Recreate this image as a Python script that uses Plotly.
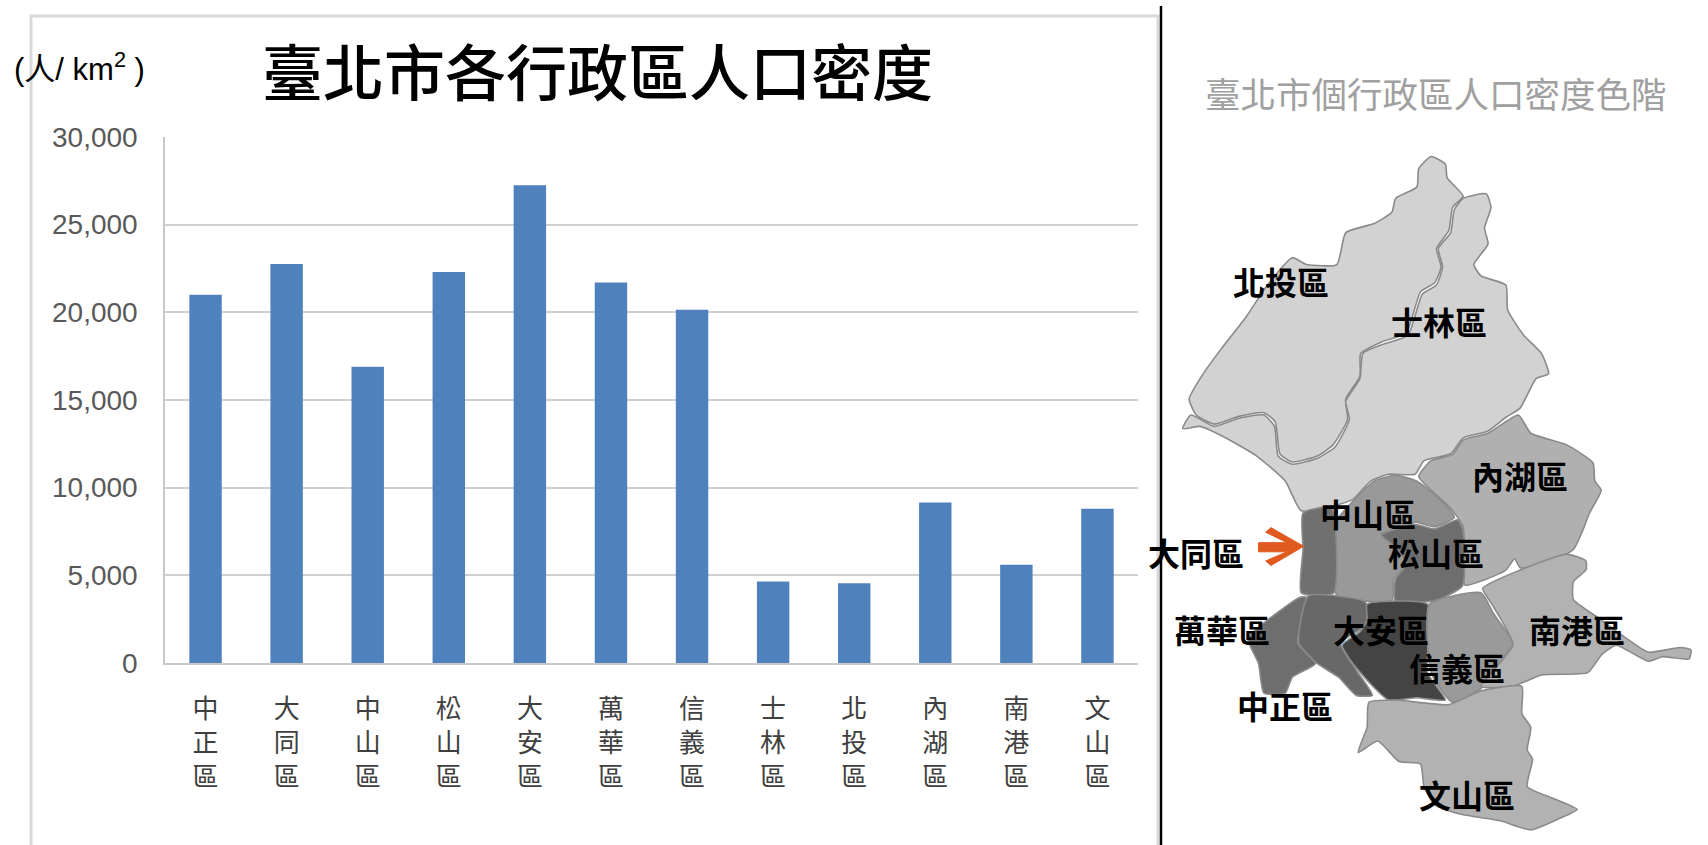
import plotly.graph_objects as go

W, H = 1708, 845

districts = ["中正區", "大同區", "中山區", "松山區", "大安區", "萬華區", "信義區", "士林區", "北投區", "內湖區", "南港區", "文山區"]
density = [21000, 22750, 16900, 22300, 27250, 21700, 20150, 4650, 4550, 9150, 5600, 8800]
y_ticks = [0, 5000, 10000, 15000, 20000, 25000, 30000]

chart_title = "臺北市各行政區人口密度"
map_title = "臺北市個行政區人口密度色階"
unit_text = "(人/ km<sup>2</sup> )"

beitou = [(790,58),(830,75),(835,105),(880,145),(850,170),(840,220),(805,260),(818,300),(800,335),(760,355),(720,445),(650,465),(592,490),(590,540),(550,590),(555,635),(515,690),(470,715),(400,728),(365,710),(352,640),(320,620),(250,628),(180,645),(130,625),(110,590),(145,540),(200,480),(270,410),(330,340),(400,280),(440,295),(525,295),(550,225),(630,205),(680,180),(690,150),(750,125),(755,85)]
shilin = [(880,150),(945,140),(958,170),(940,215),(950,250),(910,295),(930,320),(1000,340),(1005,395),(1050,450),(1100,490),(1120,535),(1085,545),(1040,610),(1000,630),(950,660),(880,675),(845,710),(770,725),(745,755),(670,755),(620,770),(570,810),(510,825),(425,835),(380,770),(300,715),(200,670),(140,650),(92,655),(115,625),(180,650),(250,632),(320,625),(350,650),(360,715),(400,733),(470,720),(520,695),(560,635),(550,595),(590,545),(598,490),(655,470),(725,450),(765,360),(805,340),(822,300),(810,260),(845,225),(855,175)]
neihu = [(755,760),(790,725),(850,712),(880,680),(950,665),(1035,625),(1070,665),(1170,690),(1245,730),(1250,770),(1268,790),(1235,840),(1215,880),(1190,920),(1130,945),(1040,960),(1025,940),(1000,965),(945,985),(885,998),(880,870),(840,825),(790,790)]
zhongshan = [(575,810),(630,770),(690,757),(750,770),(800,800),(840,830),(855,850),(800,870),(745,860),(690,880),(650,885),(690,915),(720,950),(685,985),(680,1032),(525,1020),(522,860)]
datong = [(430,840),(510,828),(516,1015),(425,1015),(430,920)]
songshan = [(650,888),(745,865),(800,875),(865,855),(880,880),(878,1000),(800,1032),(690,1035),(690,985),(722,950),(690,915)]
wanhua = [(420,1025),(440,1025),(415,1125),(465,1170),(400,1200),(380,1235),(320,1235),(305,1170),(275,1115),(330,1075)]
zhongzheng = [(445,1022),(605,1035),(608,1085),(535,1125),(580,1185),(625,1240),(580,1240),(530,1200),(470,1170),(418,1125)]
daan = [(610,1040),(780,1040),(780,1190),(830,1250),(750,1245),(670,1250),(620,1215),(570,1170),(540,1130),(590,1100),(610,1075)]
xinyi = [(785,1040),(930,1015),(965,1060),(1010,1110),(1020,1125),(960,1190),(930,1225),(850,1255),(790,1190)]
nangang = [(935,1005),(1040,965),(1170,930),(1225,945),(1225,965),(1190,990),(1190,1030),(1260,1070),(1330,1110),(1400,1145),(1490,1135),(1520,1140),(1515,1160),(1440,1155),(1400,1165),(1310,1130),(1270,1150),(1230,1190),(1100,1195),(1020,1220),(930,1220),(1020,1130),(965,1045)]
wenshan = [(615,1255),(690,1250),(840,1260),(930,1230),(1045,1220),(1045,1280),(1070,1310),(1060,1360),(1075,1380),(1060,1440),(1130,1465),(1200,1490),(1150,1510),(1070,1535),(985,1515),(870,1500),(800,1480),(770,1440),(760,1390),(700,1385),(640,1340),(585,1365),(610,1310)]
arrow_outline = [(305,905),(385,905),(325,882),(340,872),(432,913),(340,955),(325,945),(385,925),(305,925)]

map_regions = [
    (beitou, "#d2d2d2"), (shilin, "#d2d2d2"), (neihu, "#b0b0b0"), (zhongshan, "#999999"),
    (datong, "#707070"), (songshan, "#6e6e6e"), (wanhua, "#6e6e6e"), (zhongzheng, "#686868"),
    (daan, "#444444"), (xinyi, "#9a9a9a"), (nangang, "#b2b2b2"), (wenshan, "#b2b2b2"),
]
map_labels = [("北投區",368,332),("士林區",812,418),("內湖區",1040,757),("中山區",612,840),("大同區",128,925),
              ("松山區",805,925),("萬華區",202,1094),("大安區",650,1094),("南港區",1200,1094),("信義區",862,1177),
              ("中正區",380,1262),("文山區",890,1457)]

fig = go.Figure()

fig.add_trace(go.Bar(x=districts, y=density, width=0.40, marker=dict(color="#4f81bd", line_width=0),
                     xaxis="x", yaxis="y", showlegend=False))

for pts, col in map_regions:
    xs = [p[0] for p in pts] + [pts[0][0]]
    ys = [p[1] for p in pts] + [pts[0][1]]
    fig.add_trace(go.Scatter(x=xs, y=ys, mode="lines", fill="toself", fillcolor=col,
                             line=dict(color="#8a8a8a", width=1.6, shape="spline", smoothing=0.5),
                             xaxis="x2", yaxis="y2", showlegend=False, hoverinfo="skip"))

fig.add_trace(go.Scatter(x=[p[0] for p in arrow_outline] + [arrow_outline[0][0]],
                         y=[p[1] for p in arrow_outline] + [arrow_outline[0][1]],
                         mode="lines", fill="toself", fillcolor="#e05a20", line=dict(color="#e05a20", width=1),
                         xaxis="x2", yaxis="y2", showlegend=False, hoverinfo="skip"))

annotations = [
    dict(text=chart_title, x=597/W, y=1-69/H, xref="paper", yref="paper", xanchor="center", yanchor="middle",
         showarrow=False, font=dict(family="Noto Sans CJK TC", size=61, color="#000000", weight=500)),
    dict(text=map_title, x=1436/W, y=1-92/H, xref="paper", yref="paper", xanchor="center", yanchor="middle",
         showarrow=False, font=dict(family="Noto Sans CJK TC", size=35.5, color="#a0a0a0")),
    dict(text=unit_text, x=12/W, y=1-67/H, xref="paper", yref="paper", xanchor="left", yanchor="middle",
         showarrow=False, font=dict(family="Liberation Sans, Noto Sans CJK TC", size=31, color="#000000")),
]
for name, cx, cy in map_labels:
    annotations.append(dict(text=name, x=cx, y=cy, xref="x2", yref="y2", xanchor="center", yanchor="middle",
                            showarrow=False,
                            font=dict(family="Noto Sans CJK TC", size=32, color="#000000", weight="bold")))

fig.update_layout(
    width=W, height=H, margin=dict(l=0, r=0, t=0, b=0), paper_bgcolor="white", plot_bgcolor="white",
    xaxis=dict(domain=[165/W, 1138/W], type="category", anchor="y", showgrid=False, ticks="", automargin=False,
               tickmode="array", tickvals=districts, ticktext=["<br>".join(d) for d in districts],
               tickangle=0, ticklabelstandoff=22, showline=True, linecolor="#c8c8c8", linewidth=2,
               tickfont=dict(family="Noto Sans CJK TC", size=26, color="#404040")),
    yaxis=dict(domain=[1-663/H, 1-137/H], range=[0, 30000], anchor="x", tickmode="array", tickvals=y_ticks,
               tickformat=",d", ticks="", ticklabelstandoff=20, gridcolor="#d0d0d0", gridwidth=2, automargin=False,
               zeroline=False, showline=True, linecolor="#c8c8c8", linewidth=1.5,
               tickfont=dict(family="Liberation Sans", size=28, color="#595959")),
    xaxis2=dict(domain=[1150/W, 1], range=[0, 1568], anchor="y2", visible=False, fixedrange=True, automargin=False),
    yaxis2=dict(domain=[0, 715/H], range=[1568, 0], anchor="x2", visible=False, fixedrange=True, automargin=False),
    shapes=[
        dict(type="path", xref="paper", yref="paper", layer="below",
             path=f"M {31/W} 0 L {31/W} {1-16/H} L {1158/W} {1-16/H} L {1158/W} 0",
             line=dict(color="#d9d9d9", width=3)),
        dict(type="line", xref="paper", yref="paper", x0=1161/W, x1=1161/W, y0=0, y1=1-6/H,
             line=dict(color="#000000", width=2.5)),
    ],
    annotations=annotations,
)

fig.write_html("out.html", config={"displayModeBar": False}, post_script="document.body.style.margin='0';")
